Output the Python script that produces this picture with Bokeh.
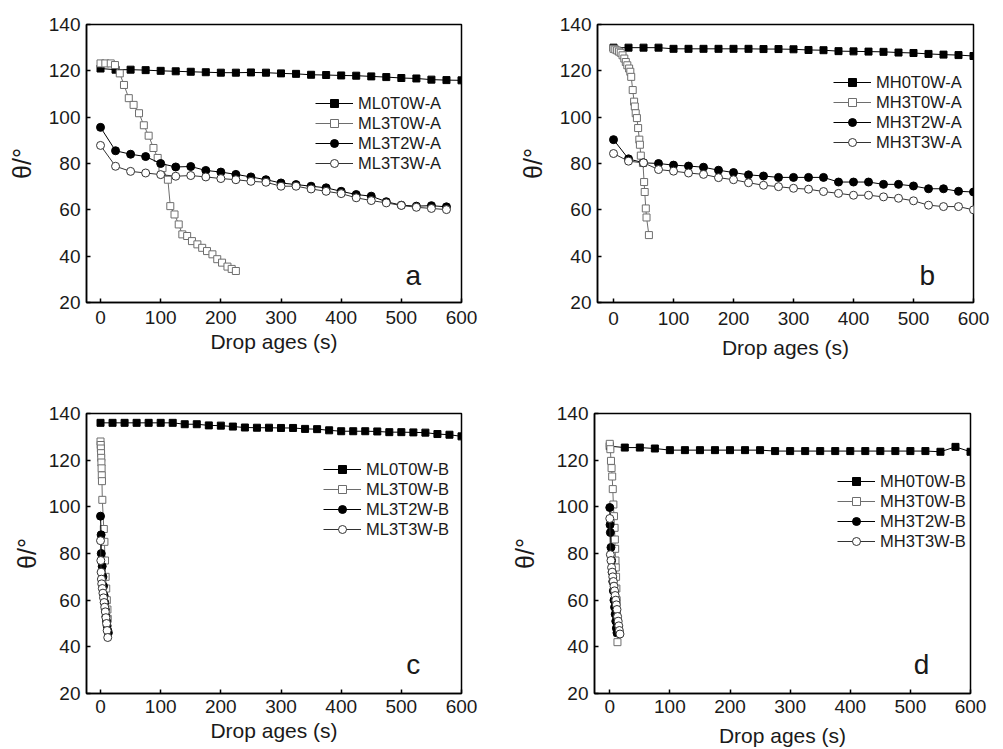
from bokeh.plotting import figure
from bokeh.layouts import column, row
from bokeh.models import Range1d, FixedTicker, Label
from bokeh.embed import file_html
from bokeh.resources import INLINE

# ---------------- data ----------------
# Panel a
t_a25 = [0, 25, 50, 75, 100, 125, 150, 175, 200, 225, 250, 275, 300, 325, 350, 375,
         400, 425, 450, 475, 500, 525, 550, 575, 600]
ML0T0W_A = [121, 120.5, 120.5, 120.3, 120, 119.8, 119.6, 119.4, 119.2, 119.2, 119.3, 119.2,
            118.9, 118.7, 118.3, 118.2, 118, 117.9, 117.6, 117.3, 116.9, 116.7, 116.2, 116, 115.9]
t_ML3T0W_A = [0, 8, 17, 24, 32, 39, 47, 55, 64, 72, 80, 88, 95, 103, 112, 116, 123, 130,
              136, 144, 152, 161, 169, 177, 186, 194, 202, 211, 218, 225]
ML3T0W_A = [123.2, 123.2, 123.2, 122.5, 118.9, 113.9, 108.2, 105.3, 101.7, 96.5, 92, 86.7,
            82.4, 78, 73, 61.6, 58, 53.7, 49.4, 48.7, 46.5, 45.1, 43.6, 42.2, 40.8, 38.7,
            37.2, 35.5, 34.5, 33.6]
t_a24 = [0, 25, 50, 75, 100, 125, 150, 175, 200, 225, 250, 275, 300, 325, 350, 375,
         400, 425, 450, 475, 500, 525, 550, 575]
ML3T2W_A = [95.6, 85.5, 84, 83, 80, 78.5, 78.7, 77, 76.3, 75.3, 74.2, 73, 71.6, 70.9, 70.2,
            69.5, 68, 66.6, 65.9, 63.5, 62, 61.6, 61.8, 61.3]
ML3T3W_A = [87.8, 78.8, 76.6, 75.9, 75.2, 74.5, 74.8, 74.2, 73.5, 73, 72.3, 71.9, 70.2, 70.2,
            69, 68, 67, 65.2, 64, 63, 61.9, 61.1, 60.6, 60.1]

# Panel b
t_b25 = [0, 25, 50, 75, 100, 125, 150, 175, 200, 225, 250, 275, 300, 325, 350, 375,
         400, 425, 450, 475, 500, 525, 550, 575, 600]
MH0T0W_A = [130, 130, 130, 130, 129.5, 129.5, 129.5, 129.5, 129.5, 129.5, 129.4, 129.4, 129.3,
            129, 128.9, 128.5, 128.4, 128.3, 128.2, 127.9, 127.7, 127.3, 127, 126.8, 126.4]
t_MH3T0W_A = [0, 3, 6, 9, 12, 15, 18, 20.5, 23, 26, 28, 29.5, 32, 34.3, 35.5, 37, 39, 41, 43,
              44, 45.5, 49, 51, 52, 53.8, 55, 59]
MH3T0W_A = [129.5, 129.2, 128.8, 128.3, 127.8, 126.7, 125.3, 123.8, 122.4, 121, 119.6, 117.4,
            111.7, 106.7, 104.6, 101.7, 99.6, 95.3, 90.3, 88.1, 83.4, 80.2, 72, 67.7, 60.6,
            56.7, 49.1]
MH3T2W_A = [90.3, 82, 80.3, 80, 79.3, 78.9, 78.4, 77.1, 76.1, 75.1, 74.6, 74, 74, 74, 74, 72,
            72, 72, 71, 71, 70.3, 69.1, 69.1, 68, 67.7]
MH3T3W_A = [84.3, 81, 80.3, 77.4, 76.7, 75.9, 75.3, 73.9, 73, 71.7, 70.6, 70, 69.3, 68.9, 67.9,
            67.1, 66.3, 66.3, 65.6, 65, 63.9, 62, 61.4, 61.4, 60]

# Panel c
t_c20 = [0, 20, 40, 60, 80, 100, 120, 140, 160, 180, 200, 220, 240, 260, 280, 300, 320, 340,
         360, 380, 400, 420, 440, 460, 480, 500, 520, 540, 560, 580, 600]
ML0T0W_B = [136, 136, 136, 136, 136, 136, 136, 135.4, 135.4, 134.9, 134.8, 134.4, 134, 133.9,
            133.9, 133.8, 133.8, 133.4, 133.3, 132.8, 132.4, 132.4, 132.4, 132.3, 132, 132,
            131.9, 131.8, 131.2, 130.9, 130.2]
t_ML3T0W_B = [0, 0.3, 0.6, 0.9, 1.2, 1.5, 1.8, 2.1, 2.4, 3, 5.5, 6.5, 7.5, 8.5, 9.5, 10.5,
              11.5, 12]
ML3T0W_B = [128, 126.5, 125, 123, 121, 119, 116.5, 113.5, 111, 103, 90.5, 85, 77, 70, 65, 60,
            56, 52]
t_ML3T2W_B = [0, 1, 1.2, 2.8, 4, 5, 6, 7, 8, 9, 10, 11, 12, 13]
ML3T2W_B = [96, 88, 80, 74.5, 70, 66, 62, 59, 56, 53, 51, 49, 47, 46]
t_ML3T3W_B = [0, 0.5, 1, 1.5, 2, 3, 4, 5, 6, 7, 8, 9, 10, 11, 12]
ML3T3W_B = [85.5, 77, 72, 69, 67, 65, 63, 61, 59, 57, 55, 52.5, 50, 47, 44]

# Panel d
t_d25 = [0, 25, 50, 75, 100, 125, 150, 175, 200, 225, 250, 275, 300, 325, 350, 375,
         400, 425, 450, 475, 500, 525, 550, 575, 600]
MH0T0W_B = [126, 125.4, 125.4, 125, 124.3, 124.3, 124.3, 124.3, 124.3, 124.3, 124.3, 123.9,
            123.9, 123.9, 123.9, 123.9, 123.9, 123.9, 123.9, 123.9, 123.9, 123.9, 123.6, 125.7,
            123.6]
t_MH3T0W_B = [0, 1, 2, 3, 4, 5, 6, 7, 8, 8.5, 9, 9.5, 10, 10.5, 11, 11.5, 12, 12.3, 12.6, 12.8]
MH3T0W_B = [127, 124.7, 119.7, 116.6, 113, 107.6, 101, 96, 91, 86, 82, 77, 74, 70, 65, 60, 55,
            50, 46, 42]
t_MH3T2W_B = [0, 0.5, 1, 2, 3, 4, 5, 6, 7, 8, 9, 10, 11, 12]
MH3T2W_B = [99.7, 92.3, 89, 82.6, 77, 72, 68, 64, 60, 57, 54, 51, 48, 46]
t_MH3T3W_B = [0, 1, 2, 3, 4, 5, 6, 7, 8, 9, 10, 11, 12, 13, 14, 15, 16, 17]
MH3T3W_B = [95, 79.5, 77, 74, 72, 70, 68, 66, 64, 62, 60, 58, 56, 53, 51, 49, 47, 45.5]

x_ticks = [0, 100, 200, 300, 400, 500, 600]
y_ticks = [20, 40, 60, 80, 100, 120, 140]
x_label = "Drop ages (s)"
y_label = "θ/°"
panel_letters = ["a", "b", "c", "d"]

FONT = "Liberation Sans"
GRAY = "#6e6e6e"

STYLES = [
    dict(marker="square", fill="black", color="black", size=7),
    dict(marker="square", fill="white", color=GRAY, size=7),
    dict(marker="circle", fill="black", color="black", size=8),
    dict(marker="circle", fill="white", color="#333333", size=8),
]


def make_panel(series, names, letter, letter_xy, xmin, width, height, borders,
               legend_loc, y_label_standoff, x_label_standoff, tick_standoff):
    left, right, top, bottom = borders
    p = figure(width=width, height=height, output_backend="svg", toolbar_location=None,
               x_range=Range1d(xmin, 600), y_range=Range1d(20, 140),
               min_border_left=left, min_border_right=right,
               min_border_top=top, min_border_bottom=bottom)
    p.background_fill_color = "white"
    p.border_fill_color = "white"
    p.outline_line_color = "black"
    p.outline_line_width = 1.5
    p.xgrid.visible = False
    p.ygrid.visible = False
    for (xs, ys), name, st in zip(series, names, STYLES):
        p.line(xs, ys, line_color=st["color"], line_width=1, legend_label=name)
        p.scatter(xs, ys, marker=st["marker"], size=st["size"], fill_color=st["fill"],
                  line_color=st["color"], line_width=1, legend_label=name)
    for ax, ticks in ((p.xaxis[0], x_ticks), (p.yaxis[0], y_ticks)):
        ax.ticker = FixedTicker(ticks=ticks)
        ax.minor_tick_line_color = None
        ax.major_tick_in = 4
        ax.major_tick_out = 0
        ax.major_tick_line_width = 1.5
        ax.axis_line_width = 1.5
        ax.major_label_text_font = FONT
        ax.major_label_text_font_size = "19px"
        ax.major_label_text_color = "#1a1a1a"
        ax.axis_label_text_font = FONT
        ax.axis_label_text_font_style = "normal"
        ax.axis_label_text_color = "#1a1a1a"
    p.xaxis.axis_label_text_font_size = "21px"
    p.yaxis.axis_label_text_font_size = "25px"
    p.xaxis.axis_label = x_label
    p.yaxis.axis_label = y_label
    p.xaxis.major_label_standoff = tick_standoff
    p.yaxis.major_label_standoff = 6
    p.xaxis.axis_label_standoff = x_label_standoff
    p.yaxis.axis_label_standoff = y_label_standoff

    lg = p.legend[0]
    lg.location = legend_loc
    lg.background_fill_alpha = 0
    lg.border_line_alpha = 0
    lg.label_text_font = FONT
    lg.label_text_font_size = "16.5px"
    lg.label_text_color = "#1a1a1a"
    lg.glyph_width = 38
    lg.glyph_height = 20
    lg.label_height = 20
    lg.label_standoff = 5
    lg.padding = 0
    lg.margin = 0
    lg.spacing = 0

    p.add_layout(Label(x=letter_xy[0], y=letter_xy[1], text=letter, text_font=FONT,
                       text_font_size="28px", text_align="center",
                       text_baseline="alphabetic", text_color="#1a1a1a"))
    return p


pa = make_panel([(t_a25, ML0T0W_A), (t_ML3T0W_A, ML3T0W_A), (t_a24, ML3T2W_A), (t_a24, ML3T3W_A)],
                ["ML0T0W-A", "ML3T0W-A", "ML3T2W-A", "ML3T3W-A"], panel_letters[0], (520, 31.5),
                -23.3, 501, 370, (86, 40, 23, 68), (229, 129), 10, 3, 8)
pb = make_panel([(t_b25, MH0T0W_A), (t_MH3T0W_A, MH3T0W_A), (t_b25, MH3T2W_A), (t_b25, MH3T3W_A)],
                ["MH0T0W-A", "MH3T0W-A", "MH3T2W-A", "MH3T3W-A"], panel_letters[1], (523, 31.7),
                -26.7, 495, 370, (96, 23, 24, 66), (236, 150), 10, 8, 9)
pc = make_panel([(t_c20, ML0T0W_B), (t_ML3T0W_B, ML3T0W_B), (t_ML3T2W_B, ML3T2W_B),
                 (t_ML3T3W_B, ML3T3W_B)],
                ["ML0T0W-B", "ML3T0W-B", "ML3T2W-B", "ML3T3W-B"], panel_letters[2], (520, 32.6),
                -23.3, 501, 379, (86, 40, 43, 56), (237, 154), 5, 3, 6)
pd = make_panel([(t_d25, MH0T0W_B), (t_MH3T0W_B, MH3T0W_B), (t_MH3T2W_B, MH3T2W_B),
                 (t_MH3T3W_B, MH3T3W_B)],
                ["MH0T0W-B", "MH3T0W-B", "MH3T2W-B", "MH3T3W-B"], panel_letters[3], (518.6, 32.3),
                -25.4, 495, 379, (93, 26, 43, 56), (243, 142), 15, 8, 6)

layout = column(row(pa, pb), row(pc, pd))
open("out.html", "w").write(file_html(layout, INLINE))
